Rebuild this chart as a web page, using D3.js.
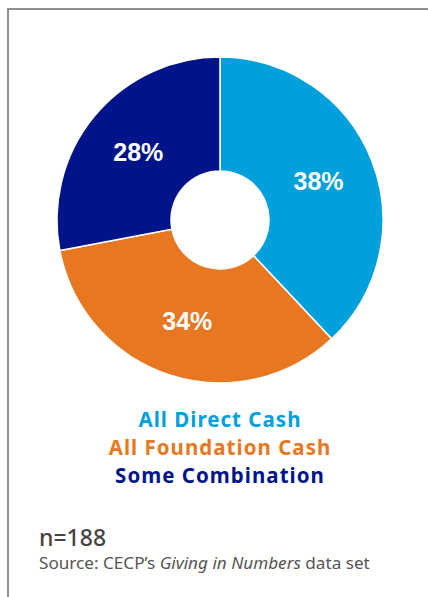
<!DOCTYPE html>
<html>
<head>
<meta charset="utf-8">
<script src="https://cdn.jsdelivr.net/npm/d3@7"></script>
<style>
  body { margin: 0; background: #fff; }
  svg { display: block; }
  .pct { font-family: "Liberation Sans", Arial, sans-serif; font-weight: 700; font-size: 25px; fill: #fff; }
  .legend { font-family: "Noto Sans", sans-serif; font-weight: 700; font-size: 20.5px; }
</style>
</head>
<body>
<svg></svg>
<script>
const categories = ["All Direct Cash", "All Foundation Cash", "Some Combination"]
const values = [38, 34, 28]
const colors = ["#00a0dc", "#e87722", "#001489"]
const sampleNote = "n=188"

const width = 428
const height = 597
const cx = 220, cy = 220

const svg = d3.select('svg')
    .attr('width', width)
    .attr('height', height)

// frame lines (top + left)
svg.append('path')
    .attr('d', `M8,${height} L8,9 L${width},9`)
    .attr('fill', 'none')
    .attr('stroke', '#8e9093')
    .attr('stroke-width', 2)

const pie = d3.pie().sort(null)
const arc = d3.arc().innerRadius(49).outerRadius(163)
const labelArc = d3.arc().innerRadius(106).outerRadius(106)

const g = svg.append('g').attr('transform', `translate(${cx},${cy})`)

const slices = g.selectAll('.slice')
    .data(pie(values))
    .enter().append('g')
    .classed('slice', true)

slices.append('path')
    .attr('d', arc)
    .attr('fill', (d, i) => colors[i])
    .attr('stroke', '#fff')
    .attr('stroke-width', 1.5)

slices.append('text')
    .attr('class', 'pct')
    .attr('transform', d => `translate(${labelArc.centroid(d)})`)
    .attr('text-anchor', 'middle')
    .attr('dy', '0.36em')
    .text(d => d.data + '%')

const legend = svg.selectAll('.legend')
    .data(categories)
    .enter().append('text')
    .attr('class', 'legend')
    .attr('x', cx)
    .attr('y', (d, i) => 427 + i * 28)
    .attr('text-anchor', 'middle')
    .attr('fill', (d, i) => colors[i])
    .text(d => d)

// widen the first line to the original's width with letter spacing
const w0 = legend.node().getComputedTextLength()
const ls = Math.max(0, (162 - w0) / (categories[0].length - 1))
legend.style('letter-spacing', ls + 'px')

svg.append('text')
    .attr('x', 39)
    .attr('y', 546)
    .attr('font-family', '"Noto Sans", sans-serif')
    .attr('font-weight', 500)
    .attr('font-size', 23)
    .attr('fill', '#444')
    .text(sampleNote)

const src = svg.append('text')
    .attr('x', 39)
    .attr('y', 569)
    .attr('font-family', '"Noto Sans", sans-serif')
    .attr('font-size', 16)
    .attr('fill', '#555')
src.append('tspan').text('Source: CECP\u2019s ')
src.append('tspan').attr('font-style', 'italic').text('Giving in Numbers')
src.append('tspan').text(' data set')
const sw = src.node().getComputedTextLength()
src.attr('font-size', 16 * 331 / sw)
</script>
</body>
</html>
